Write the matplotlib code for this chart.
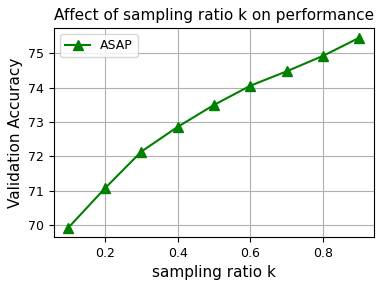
from matplotlib import pyplot as plt

ratios = [0.1, 0.2, 0.3, 0.4, 0.5, 0.6, 0.7, 0.8, 0.9]
accuracy = [69.93, 71.07, 72.14, 72.86, 73.5, 74.06, 74.48, 74.93, 75.46]

fig = plt.figure(figsize=(3.88, 2.87), dpi=100)
ax = fig.add_axes([0.139, 0.174, 0.825, 0.728])
ax.plot(ratios, accuracy, color='green', marker='^', markersize=7, linewidth=1.5, label='ASAP')
ax.set_title("Affect of sampling ratio k on performance", fontsize=11)
ax.set_xlabel("sampling ratio k", fontsize=11)
ax.set_ylabel("Validation Accuracy", fontsize=11)
ax.set_xticks([0.2, 0.4, 0.6, 0.8])
ax.tick_params(labelsize=9)
ax.grid(True)
ax.legend(loc='upper left', fontsize=9)
fig.savefig("out.png")
